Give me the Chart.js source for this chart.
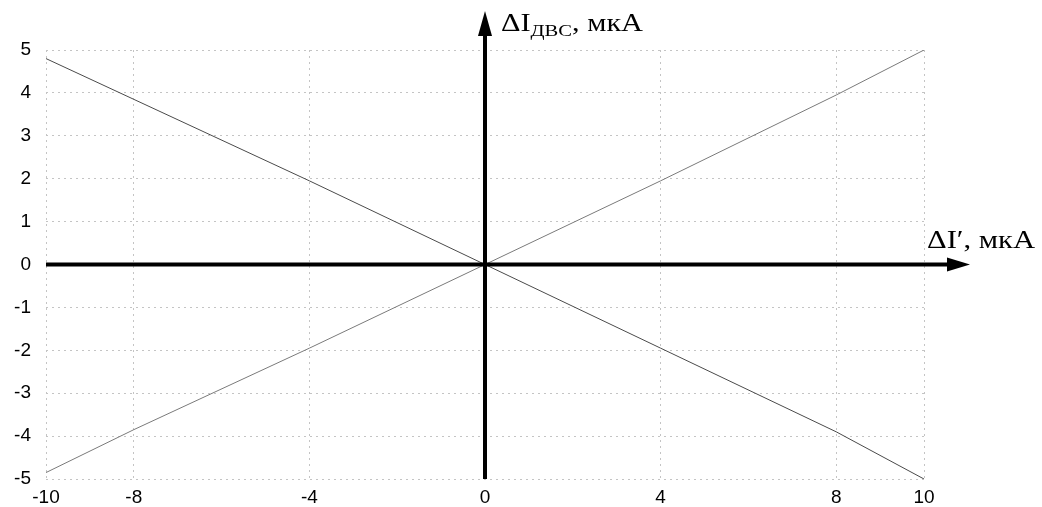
<!DOCTYPE html>
<html>
<head>
<meta charset="utf-8">
<script src="https://cdn.jsdelivr.net/npm/chart.js@4.4.1/dist/chart.umd.min.js"></script>
<style>
  html, body { margin: 0; padding: 0; background: #fff; }
  #wrap { width: 1042px; height: 507px; }
</style>
</head>
<body>
<div id="wrap"><canvas id="chart" width="1042" height="507"></canvas></div>
<script>
const xValues = [-10, -8, -4, 0, 4, 8, 10];
// falling line
const fallingLine = [4.8, 3.85, 1.95, 0, -1.95, -3.9, -5.0];
// rising line
const risingLine = [-4.85, -3.85, -1.95, 0, 1.95, 3.95, 5.0];
// tick labels
const xTicks = [-10, -8, -4, 0, 4, 8, 10];
const yTicks = [-5, -4, -3, -2, -1, 0, 1, 2, 3, 4, 5];

const yLabel = { main: 'ΔI', sub: 'ДВС', tail: ', мкА' };
const xLabel = 'ΔI′, мкА';

const serif = '"Liberation Serif", "DejaVu Serif", serif';

function toPoints(ys) {
    return xValues.map((x, i) => ({ x: x, y: ys[i] }));
}

// pieces: [text, fontSize, dy]; drawn side by side, stretched to width
function drawStretched(ctx, pieces, x, y, width) {
    let natural = 0;
    pieces.forEach(p => {
        ctx.font = p[1] + 'px ' + serif;
        natural += ctx.measureText(p[0]).width;
    });
    const k = width / natural;
    ctx.save();
    ctx.translate(x, y);
    ctx.scale(k, 1);
    let cx = 0;
    pieces.forEach(p => {
        ctx.font = p[1] + 'px ' + serif;
        ctx.fillText(p[0], cx, p[2]);
        cx += ctx.measureText(p[0]).width;
    });
    ctx.restore();
}

// Draws the thick black axes with arrowheads and the axis titles
const arrowAxes = {
    id: 'arrowAxes',
    afterDatasetsDraw(chart) {
        const ctx = chart.ctx;
        const sx = chart.scales.x, sy = chart.scales.y;
        const x0 = sx.getPixelForValue(0);
        const y0 = sy.getPixelForValue(0);
        const area = chart.chartArea;

        ctx.save();
        ctx.strokeStyle = '#000';
        ctx.fillStyle = '#000';
        ctx.lineWidth = 4;

        // horizontal axis
        ctx.beginPath();
        ctx.moveTo(area.left, y0);
        ctx.lineTo(955, y0);
        ctx.stroke();
        ctx.beginPath();
        ctx.moveTo(970, y0);
        ctx.lineTo(947, y0 - 7);
        ctx.lineTo(947, y0 + 7);
        ctx.closePath();
        ctx.fill();

        // vertical axis
        ctx.beginPath();
        ctx.moveTo(x0, area.bottom);
        ctx.lineTo(x0, 25);
        ctx.stroke();
        ctx.beginPath();
        ctx.moveTo(x0, 11);
        ctx.lineTo(x0 - 7, 36);
        ctx.lineTo(x0 + 7, 36);
        ctx.closePath();
        ctx.fill();

        // axis titles
        ctx.textBaseline = 'alphabetic';
        ctx.textAlign = 'left';
        drawStretched(ctx, [[yLabel.main, 25, 0], [yLabel.sub, 17, 5], [yLabel.tail, 25, 0]], x0 + 16, 31, 142);
        drawStretched(ctx, [[xLabel, 25, 0]], 927, y0 - 17, 108);
        ctx.restore();
    }
};

const tickFont = { family: '"Liberation Sans", Arial, sans-serif', size: 19 };

new Chart(document.getElementById('chart'), {
    type: 'line',
    data: {
        datasets: [
            {
                data: toPoints(fallingLine),
                borderColor: '#4a4a4a',
                borderWidth: 1,
                pointRadius: 0,
                tension: 0
            },
            {
                data: toPoints(risingLine),
                borderColor: '#7a7a7a',
                borderWidth: 1,
                pointRadius: 0,
                tension: 0
            }
        ]
    },
    options: {
        responsive: false,
        animation: false,
        layout: { padding: { top: 50, right: 118, left: 0, bottom: 0 } },
        plugins: {
            legend: { display: false },
            tooltip: { enabled: false }
        },
        scales: {
            x: {
                type: 'linear',
                min: -10,
                max: 10,
                afterBuildTicks: (scale) => { scale.ticks = xTicks.map(v => ({ value: v })); },
                afterFit: (scale) => { scale.height = 28; },
                ticks: { color: '#000', font: tickFont, padding: 7, maxRotation: 0 },
                grid: { color: '#c4c4c4', drawTicks: false },
                border: { display: false, dash: [2, 4] }
            },
            y: {
                type: 'linear',
                min: -5,
                max: 5,
                afterBuildTicks: (scale) => { scale.ticks = yTicks.map(v => ({ value: v })); },
                afterFit: (scale) => { scale.width = 46; },
                ticks: { color: '#000', font: tickFont, padding: 15 },
                grid: { color: '#c4c4c4', drawTicks: false },
                border: { display: false, dash: [2, 4] }
            }
        }
    },
    plugins: [arrowAxes]
});
</script>
</body>
</html>
